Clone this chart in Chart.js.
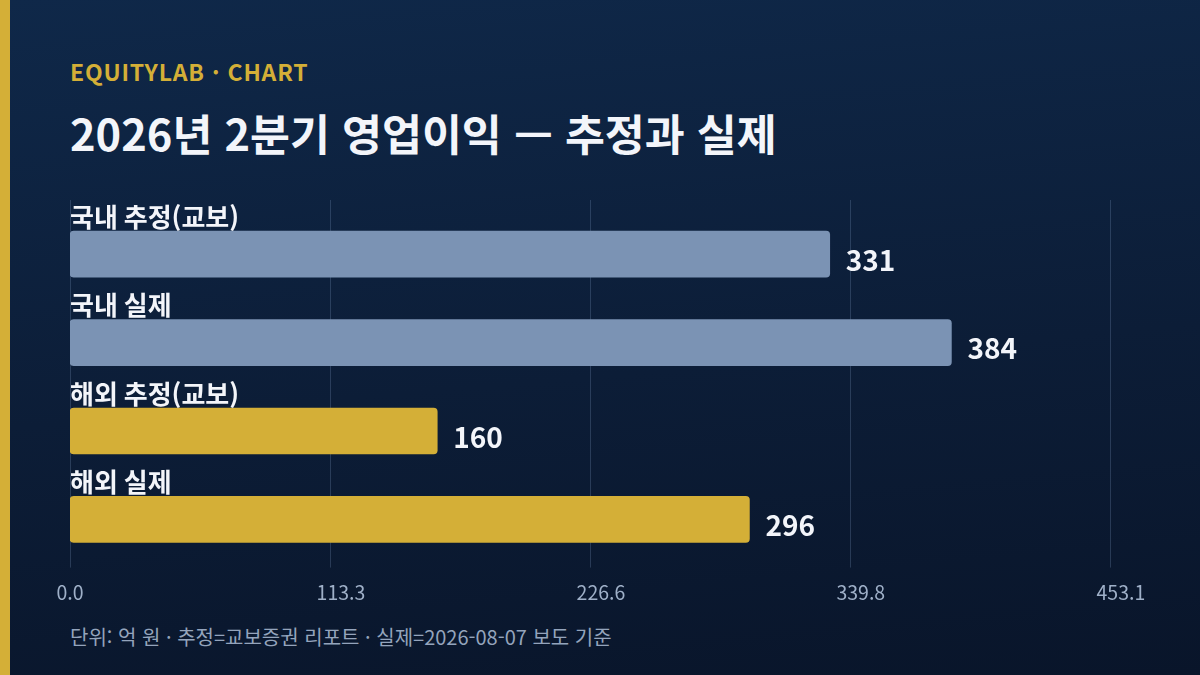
<!DOCTYPE html>
<html lang="ko">
<head>
<meta charset="utf-8">
<script src="https://cdn.jsdelivr.net/npm/chart.js@4.4.1/dist/chart.umd.min.js"></script>
<style>
  html, body { margin: 0; padding: 0; }
  body {
    width: 1200px; height: 675px; overflow: hidden; position: relative;
    background: linear-gradient(175deg, #0f2849 0%, #0c1d37 55%, #09152a 100%);
    font-family: "Noto Sans CJK KR", "Noto Sans", sans-serif;
  }
  .stripe { position: absolute; left: 0; top: 0; width: 10px; height: 675px; background: #d4af37; }
  .kicker { position: absolute; left: 70px; top: 54px; color: #d4af37; font-size: 23px; font-weight: 700; letter-spacing: 0.8px; line-height: 34px; }
  .title { position: absolute; left: 70px; top: 104px; color: #f3f5fa; font-size: 43.4px; font-weight: 700; line-height: 56px; }
  .note { position: absolute; left: 70px; top: 622px; color: #94a4bc; font-size: 20px; line-height: 30px; }
  #wrap { position: absolute; left: 0; top: 190px; width: 1200px; height: 431px; }
</style>
</head>
<body>
<div class="stripe"></div>
<div class="kicker">EQUITYLAB · CHART</div>
<div class="title">2026년 2분기 영업이익 — 추정과 실제</div>
<div id="wrap"><canvas id="bars"></canvas></div>
<div class="note">단위: 억 원 · 추정=교보증권 리포트 · 실제=2026-08-07 보도 기준</div>

<script>
// chart data
const categories = ["국내 추정(교보)", "국내 실제", "해외 추정(교보)", "해외 실제"];
const profit = [331, 384, 160, 296];
const barColors = ["#7b93b4", "#7b93b4", "#d4af37", "#d4af37"];
const tickValues = [0, 113.3, 226.6, 339.8, 453.1];
const tickLabels = ["0.0", "113.3", "226.6", "339.8", "453.1"];
const axisMax = 453.1;

// category names sit above each bar, values to the right
const barLabels = {
  id: "barLabels",
  beforeDatasetsDraw(chart) {
    // grid lines, a little taller than the plot area
    const ctx = chart.ctx;
    const area = chart.chartArea;
    const x = chart.scales.x;
    ctx.save();
    ctx.strokeStyle = "rgba(130,158,198,0.25)";
    ctx.lineWidth = 1;
    x.ticks.forEach(function (t) {
      const px = Math.round(x.getPixelForValue(t.value)) + 0.5;
      ctx.beginPath();
      ctx.moveTo(px, area.top - 10);
      ctx.lineTo(px, area.bottom + 4);
      ctx.stroke();
    });
    ctx.restore();
  },
  afterDatasetsDraw(chart) {
    const ctx = chart.ctx;
    const meta = chart.getDatasetMeta(0);
    ctx.save();
    meta.data.forEach(function (bar, i) {
      ctx.fillStyle = "#f3f5fa";
      ctx.font = "700 26px 'Noto Sans CJK KR'";
      ctx.textAlign = "left";
      ctx.textBaseline = "middle";
      ctx.fillText(chart.data.labels[i], chart.chartArea.left, bar.y - 37);
      ctx.font = "700 28px 'Noto Sans CJK KR'";
      ctx.fillText(String(chart.data.datasets[0].data[i]), bar.x + 16, bar.y + 6);
    });
    ctx.restore();
  }
};

new Chart("bars", {
  type: "bar",
  data: {
    labels: categories,
    datasets: [
      {
        data: profit,
        backgroundColor: barColors,
        borderRadius: 4,
        borderSkipped: false,
        barThickness: 46,
      },
    ],
  },
  options: {
    indexAxis: "y",
    responsive: true,
    maintainAspectRatio: false,
    animation: false,
    layout: { padding: { left: 70, right: 90, top: 20, bottom: 0 } },
    plugins: { legend: { display: false }, tooltip: { enabled: false } },
    scales: {
      x: {
        min: 0,
        max: axisMax,
        afterBuildTicks(scale) {
          scale.ticks = tickValues.map(function (v) { return { value: v }; });
        },
        border: { display: false },
        grid: { display: false, drawTicks: false },
        ticks: {
          color: "#9fb0c8",
          padding: 17,
          align: "start",
          labelOffset: -13.5,
          font: { family: "Noto Sans CJK KR", size: 19.5 },
          callback: function (v, i) { return tickLabels[i]; },
        },
      },
      y: { display: false },
    },
  },
  plugins: [barLabels],
});
</script>
</body>
</html>
